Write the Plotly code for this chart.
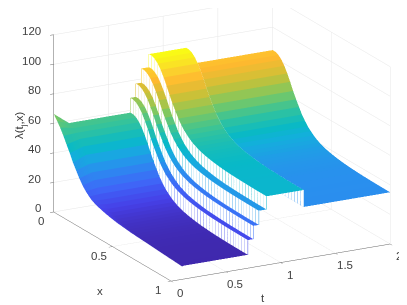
import numpy as np
import plotly.graph_objects as go

x_grid = [0, .025, .05, .075, .1, .125, .15, .175, .2, .225, .25, .275, .3, .325, .35, .375, .4, .425, .45, .475,
          .5, .525, .55, .575, .6, .625, .65, .675, .7, .725, .75, .775, .8, .825, .85, .875, .9, .925, .95, .975, 1]
profile = [49.5, 49.5, 48.5, 46.5, 43.5, 39.5, 35, 30, 25.5, 21.5, 17.5, 14.5, 11.8, 9.8, 8, 6.6, 5.5, 4.6, 3.8, 3.2,
           2.7, 2.3, 1.9, 1.6, 1.3, 1.1, .9, .75, .6, .5, .4, .32, .25, .2, .15, .1, .07, .05, .03, .01, 0]
# front edge of the surface
front_t = [0, .003, .005, .008, .01, .013, .015, .018, .02, .023, .025, .028, .03, .033, .035, .038, .04, .043, .045, .048,
           .05, .053, .055, .058, .06, .063, .065, .068, .07, .073, .075, .078, .08, .083, .085, .088, .09, .093, .095, .098, .1]
front_z = [66.5, 63, 59.5, 55, 50.3, 45.5, 40.3, 36, 31.8, 28.2, 25.3, 23, 21.2, 20, 19, 18.2, 17.4, 16.7, 16.1, 15.5,
           15, 14.6, 14.2, 13.8, 13.4, 13.1, 12.8, 12.5, 12.2, 11.9, 11.6, 11.3, 11, 10.7, 10.4, 10.1, 9.8, 9.5, 9.2, 8.9, 8.6]
second_t = [.14, .139, .139, .138, .137, .136, .136, .135, .134, .133, .133, .132, .131, .13, .13, .129, .128, .127, .127, .126,
            .125, .124, .124, .123, .122, .121, .121, .12, .119, .118, .118, .117, .116, .115, .115, .114, .113, .112, .112, .111, .11]
seg_start = [.14, .70, .75, .80, .87, 1.21]
seg_end = [.70, .75, .80, .87, 1.21, 2.0]
seg_level = [9, 19, 28, 37.6, 46.5, 35]
x_ticks = [0, .5, 1]
x_tick_text = ['0', '0.5', '1']
t_ticks = [0, .5, 1, 1.5, 2]
t_tick_text = ['0', '0.5', '1', '1.5', '2']
z_ticks = [0, 20, 40, 60, 80, 100, 120]

PARULA = [[0, '#3e26a8'], [.1, '#4640e8'], [.2, '#3e68f8'], [.3, '#2b8def'], [.4, '#14aedd'], [.45, '#08b9c8'],
          [.55, '#33c39c'], [.65, '#7fc85f'], [.75, '#c8c138'], [.85, '#ffb92f'], [.92, '#fad42c'], [1, '#f9fb15']]
CMIN, CMAX = 8, 96
FLAT = dict(ambient=1, diffuse=0, specular=0, roughness=1, fresnel=0)
xg = np.array(x_grid)
pr = np.array(profile)


def stepped(a):
    return np.repeat(a, 2)[1:-1]


xs = stepped(xg)
fig = go.Figure()


def sheet(t_rows, z_rows, white=False):
    T = np.array([stepped(np.asarray(r, float) * np.ones(len(xg))) for r in t_rows])
    Z = np.array([stepped(np.asarray(r, float)) for r in z_rows])
    X = np.tile(xs, (len(t_rows), 1))
    if white:
        fig.add_trace(go.Surface(x=X, y=T, z=Z, surfacecolor=np.zeros_like(Z), cmin=0, cmax=1,
                                 colorscale=[[0, '#ffffff'], [1, '#ffffff']], showscale=False,
                                 lighting=FLAT, hoverinfo='skip'))
    else:
        C = []
        for r in z_rows:
            r = np.asarray(r, float)
            mid = 0.5 * (r[:-1] + r[1:])
            C.append(np.repeat(mid, 2))
        fig.add_trace(go.Surface(x=X, y=T, z=Z, surfacecolor=np.array(C), cmin=CMIN, cmax=CMAX,
                                 colorscale=PARULA, showscale=False, lighting=FLAT, hoverinfo='skip'))


sheet([front_t, second_t], [front_z, seg_level[0] + pr])
sheet([second_t, seg_end[0] * np.ones(len(xg))], [seg_level[0] + pr, seg_level[0] + pr])
for s, e, lev in zip(seg_start[1:], seg_end[1:], seg_level[1:]):
    sheet([s, e], [lev + pr, lev + pr])

lx, lt, lz, lc = [], [], [], []
for e, a, b in zip(seg_end[:-1], seg_level[:-1], seg_level[1:]):
    sheet([e, e], [a + pr, b + pr], white=True)
    for xi, p in zip(x_grid, profile):
        lx += [xi, xi, None]
        lt += [e, e, None]
        lz += [a + p, b + p, None]
        lc += [b + p, b + p, b + p]
fig.add_trace(go.Scatter3d(x=lx, y=lt, z=lz, mode='lines', hoverinfo='skip', showlegend=False,
                           line=dict(width=1, color=lc, colorscale=PARULA, cmin=CMIN, cmax=CMAX)))

axis = dict(showbackground=False, showgrid=True, gridcolor='#e6e6e6', gridwidth=1, zeroline=False, showline=True,
            linecolor='#666666', linewidth=1, showspikes=False, ticks='inside', ticklen=4, tickcolor='#666666',
            showticklabels=False, title=dict(text=''), mirror=False)
FONT = dict(family='Liberation Sans', size=11.5, color='#404040')


def label(text, x, t, z, dx, dy, angle=0, anchor='center'):
    return dict(text=text, x=x, y=t, z=z, xshift=dx, yshift=-dy, showarrow=False, font=FONT, textangle=angle,
                xanchor=anchor, borderpad=3)


notes = []
for v, s in zip(x_ticks, x_tick_text):
    notes.append(label(s, v, 0, 0, -13, 9))
for v, s in zip(t_ticks, t_tick_text):
    notes.append(label(s, 1, v, 0, 9, 12))
for v in z_ticks:
    notes.append(label(str(v), 0, 0, v, -9, -3.5, anchor='right'))
notes.append(label('x', .5, 0, 0, -12.5, 44))
notes.append(label('t', 1, 1, 0, -18, 35))
notes.append(label('λ(t<sub>j</sub>,x)', 0, 0, 60, -33, 2, -90))

C = (.006, -.081, -.1315)
D = 2.2
E = (.836, -.449, .316)
fig.update_layout(
    width=407, height=305, margin=dict(l=0, r=0, t=0, b=0), paper_bgcolor='white', showlegend=False,
    scene=dict(
        domain=dict(x=[0, 1], y=[0, 1]),
        xaxis=dict(axis, range=[0, 1], tickvals=x_ticks),
        yaxis=dict(axis, range=[0, 2], tickvals=t_ticks),
        zaxis=dict(axis, range=[0, 120], tickvals=z_ticks),
        aspectmode='manual', aspectratio=dict(x=1.63, y=1.63, z=1.225),
        camera=dict(projection=dict(type='orthographic'), center=dict(x=C[0], y=C[1], z=C[2]),
                    eye=dict(x=C[0] + E[0] * D, y=C[1] + E[1] * D, z=C[2] + E[2] * D), up=dict(x=0, y=0, z=1)),
        annotations=notes,
    ),
)
fig.write_html("out.html")
